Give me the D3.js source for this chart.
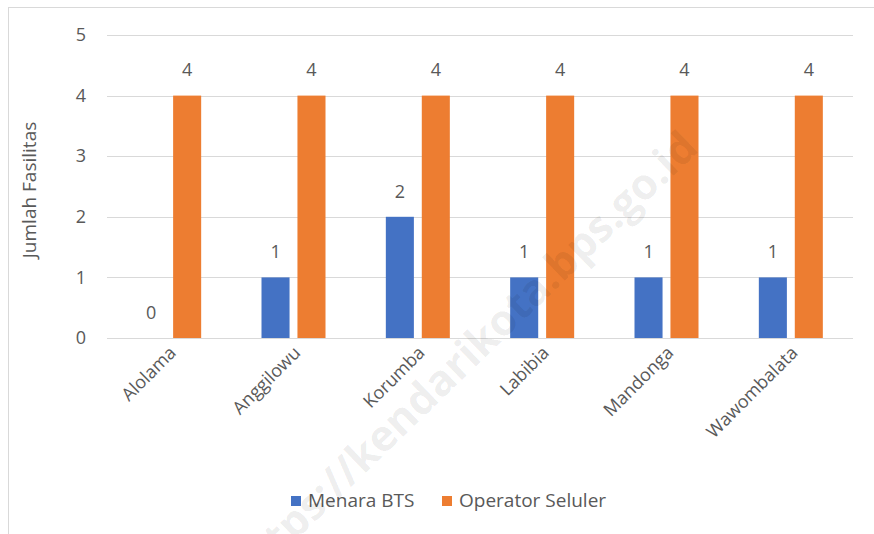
<!DOCTYPE html>
<html>
<head>
<meta charset="utf-8">
<script src="https://cdn.jsdelivr.net/npm/d3@7"></script>
<style>
  body { margin: 0; background: #fff; }
  svg text { font-family: "Open Sans", sans-serif; fill: #595959; }
</style>
</head>
<body>
<div id="chart"></div>
<script>
var villages = ["Alolama", "Anggilowu", "Korumba", "Labibia", "Mandonga", "Wawombalata"];
var menaraBTS = [0, 1, 2, 1, 1, 1];
var operatorSeluler = [4, 4, 4, 4, 4, 4];
var yTicks = [0, 1, 2, 3, 4, 5];
var seriesNames = ["Menara BTS", "Operator Seluler"];
var colors = ["#4472C4", "#ED7D31"];

(function () {
  var width = 874, height = 534;
  var plotLeft = 107, plotRight = 853, plotTop = 35, plotBottom = 338;

  var svg = d3.select("#chart").append("svg")
    .attr("width", width)
    .attr("height", height);

  // outer chart border (cut off at right and bottom)
  svg.append("rect")
    .attr("x", 8.5).attr("y", 7.5)
    .attr("width", 880).attr("height", 540)
    .attr("fill", "none")
    .attr("stroke", "#d9d9d9");

  var x = d3.scaleBand().domain(villages).range([plotLeft, plotRight]);
  var xInner = d3.scaleBand().domain(seriesNames).range([-32, 32]).paddingInner(0.22);
  var y = d3.scaleLinear().domain([0, 5]).range([plotBottom, plotTop]);

  // grid
  svg.append("g").selectAll("line")
    .data(yTicks)
    .enter().append("line")
    .attr("x1", plotLeft).attr("x2", plotRight)
    .attr("y1", function (d) { return Math.round(y(d)) + 0.5; })
    .attr("y2", function (d) { return Math.round(y(d)) + 0.5; })
    .attr("stroke", "#d9d9d9")
    .attr("stroke-width", 1);

  var yAxis = d3.axisLeft(y).tickValues(yTicks).tickFormat(d3.format("d")).tickSize(0).tickPadding(0);
  var yg = svg.append("g")
    .attr("transform", "translate(" + 86 + ",0)")
    .call(yAxis);
  yg.select(".domain").remove();
  yg.selectAll("text").style("font-size", "18px").style("fill", "#595959").style("font-family", "Open Sans");

  svg.append("text")
    .attr("transform", "translate(31," + 190 + ") rotate(-90)")
    .attr("text-anchor", "middle")
    .attr("dominant-baseline", "middle")
    .style("font-size", "19px")
    .text("Jumlah Fasilitas");

  var rows = villages.map(function (v, i) {
    return { village: v, values: [menaraBTS[i], operatorSeluler[i]] };
  });

  var groups = svg.append("g").selectAll("g")
    .data(rows)
    .enter().append("g")
    .attr("transform", function (d) { return "translate(" + (x(d.village) + x.bandwidth() / 2) + ",0)"; });

  groups.selectAll("rect")
    .data(function (d) { return d.values.map(function (v, j) { return { name: seriesNames[j], value: v, c: colors[j] }; }); })
    .enter().append("rect")
    .attr("x", function (d) { return xInner(d.name); })
    .attr("width", xInner.bandwidth())
    .attr("y", function (d) { return y(d.value); })
    .attr("height", function (d) { return y(0) - y(d.value); })
    .attr("fill", function (d) { return d.c; });

  groups.selectAll("text.lbl")
    .data(function (d) { return d.values.map(function (v, j) { return { name: seriesNames[j], value: v }; }); })
    .enter().append("text")
    .attr("class", "lbl")
    .attr("x", function (d) { return xInner(d.name) + xInner.bandwidth() / 2; })
    .attr("y", function (d) { return y(d.value) - 24; })
    .attr("text-anchor", "middle")
    .attr("dominant-baseline", "middle")
    .style("font-size", "18px")
    .text(function (d) { return d.value; });

  // x labels
  svg.append("g").selectAll("text")
    .data(villages)
    .enter().append("text")
    .attr("transform", function (d) { return "translate(" + (x(d) + x.bandwidth() / 2 + 8) + "," + 354 + ") rotate(-45)"; })
    .attr("text-anchor", "end")
    .style("font-size", "18px")
    .text(function (d) { return d; });

  // legend
  var legend = svg.append("g");
  var legendX = [291, 442];
  seriesNames.forEach(function (name, i) {
    legend.append("rect")
      .attr("x", legendX[i]).attr("y", 496)
      .attr("width", 10).attr("height", 10)
      .attr("fill", colors[i]);
    legend.append("text")
      .attr("x", legendX[i] + 17).attr("y", 502)
      .attr("dominant-baseline", "middle")
      .style("font-size", "19px")
      .text(name);
  });

  // watermark
  svg.append("text")
    .attr("transform", "translate(700,150) rotate(-44)")
    .attr("text-anchor", "end")
    .style("font-size", "43px")
    .style("font-weight", "bold")
    .style("fill", "#000")
    .style("fill-opacity", 0.08)
    .text("https://kendarikota.bps.go.id");
})();
</script>
</body>
</html>
